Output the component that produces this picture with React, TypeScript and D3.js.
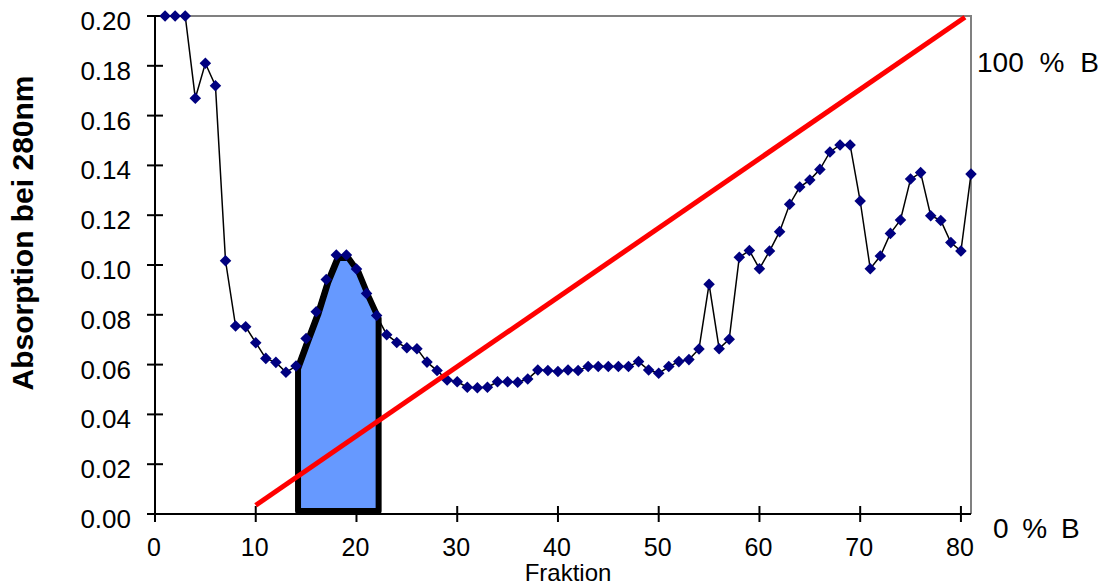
import React, { useEffect, useRef } from "react";
import * as d3 from "d3";

// Absorption at 280nm per fraction (1..81)
const fractions = d3.range(1, 82);
const absorption = [
  0.2, 0.2, 0.2, 0.167, 0.181, 0.172, 0.1017, 0.0755, 0.0752, 0.0688,
  0.0625, 0.0609, 0.0569, 0.0594, 0.0705, 0.0812, 0.0942, 0.104, 0.104, 0.0984,
  0.0886, 0.0797, 0.072, 0.0689, 0.0668, 0.0664, 0.061, 0.0576, 0.0538, 0.0531,
  0.0509, 0.0507, 0.0509, 0.0531, 0.0531, 0.0529, 0.0542, 0.0578, 0.0576, 0.0572,
  0.0578, 0.0576, 0.0592, 0.0592, 0.0592, 0.0592, 0.0592, 0.0612, 0.0578, 0.0565,
  0.0592, 0.0612, 0.062, 0.0663, 0.0923, 0.0664, 0.0702, 0.1031, 0.1058, 0.0985,
  0.1056, 0.1134, 0.1244, 0.1313, 0.1341, 0.1384, 0.1454, 0.1482, 0.1482, 0.1257,
  0.0985, 0.1036, 0.1127, 0.1181, 0.1345, 0.1371, 0.1198, 0.1179, 0.109, 0.1056,
  0.1365,
];

// pooled peak fractions
const peakStart = 14;
const peakEnd = 22;

// gradient (% B) start and end
const gradientX = [10, 80.4];
const gradientB = [0, 100];

const xTicks = [0, 10, 20, 30, 40, 50, 60, 70, 80];
const yTicks = [0, 0.02, 0.04, 0.06, 0.08, 0.1, 0.12, 0.14, 0.16, 0.18, 0.2];

const App = () => {
  const ref = useRef<SVGSVGElement>(null);

  useEffect(() => {
    const width = 1106;
    const height = 588;
    const left = 155;
    const right = 971;
    const top = 16;
    const bottom = 514;
    const font = "'Liberation Sans', Arial, sans-serif";

    const svg = d3.select(ref.current);
    svg.selectAll("*").remove();
    svg.attr("width", width).attr("height", height);

    const x = d3.scaleLinear().domain([0, 81]).range([left, right]);
    const y = d3.scaleLinear().domain([0, 0.2]).range([bottom, top]);
    const pct = d3.scaleLinear().domain([0, 100]).range([y(0.0035), y(0.1995)]);

    const data = fractions.map((f, i) => ({ f, v: absorption[i] }));

    // frame (top and right in gray)
    svg
      .append("path")
      .attr("d", `M${left - 8},${top}H${right}V${bottom}`)
      .attr("fill", "none")
      .attr("stroke", "#808080")
      .attr("stroke-width", 2);

    // axes
    const g = svg.append("g");
    g.append("line")
      .attr("x1", left).attr("x2", left)
      .attr("y1", top).attr("y2", bottom)
      .attr("stroke", "#000").attr("stroke-width", 2);
    g.append("line")
      .attr("x1", left - 8).attr("x2", right)
      .attr("y1", bottom).attr("y2", bottom)
      .attr("stroke", "#000").attr("stroke-width", 2);

    g.selectAll(".yt")
      .data(yTicks)
      .enter()
      .append("line")
      .attr("x1", left - 8).attr("x2", left + 8)
      .attr("y1", (d) => y(d)).attr("y2", (d) => y(d))
      .attr("stroke", "#000").attr("stroke-width", 2);

    g.selectAll(".xt")
      .data(xTicks)
      .enter()
      .append("line")
      .attr("x1", (d) => x(d)).attr("x2", (d) => x(d))
      .attr("y1", bottom - 8).attr("y2", bottom + 8)
      .attr("stroke", "#000").attr("stroke-width", 2);

    g.selectAll(".yl")
      .data(yTicks)
      .enter()
      .append("text")
      .attr("x", 131)
      .attr("y", (d) => y(d) + 14)
      .attr("text-anchor", "end")
      .attr("font-family", font)
      .attr("font-size", 26)
      .text((d) => d.toFixed(2));

    g.selectAll(".xl")
      .data(xTicks)
      .enter()
      .append("text")
      .attr("x", (d) => x(d) - 1)
      .attr("y", 556)
      .attr("text-anchor", "middle")
      .attr("font-family", font)
      .attr("font-size", 25)
      .text((d) => d);

    svg
      .append("text")
      .attr("x", 568)
      .attr("y", 581)
      .attr("text-anchor", "middle")
      .attr("font-family", font)
      .attr("font-size", 24)
      .text("Fraktion");

    svg
      .append("text")
      .attr("transform", `translate(33,233) rotate(-90)`)
      .attr("text-anchor", "middle")
      .attr("font-family", font)
      .attr("font-weight", "bold")
      .attr("font-size", 30)
      .text("Absorption bei 280nm");

    svg
      .append("text")
      .attr("x", 977)
      .attr("y", 72)
      .attr("font-family", font)
      .attr("font-size", 28)
      .attr("word-spacing", 8)
      .text("100 % B");
    svg
      .append("text")
      .attr("x", 993)
      .attr("y", 538)
      .attr("font-family", font)
      .attr("font-size", 28)
      .attr("word-spacing", 6)
      .text("0 % B");

    // series line
    const line = d3
      .line<{ f: number; v: number }>()
      .x((d) => x(d.f))
      .y((d) => y(d.v));
    svg
      .append("path")
      .datum(data)
      .attr("d", line)
      .attr("fill", "none")
      .attr("stroke", "#000")
      .attr("stroke-width", 1.5);

    // pooled peak area
    const peak = data.filter((d) => d.f >= peakStart && d.f <= peakEnd);
    const area = d3
      .area<{ f: number; v: number }>()
      .x((d) => x(d.f) + 2)
      .y0(y(0) - 3)
      .y1((d) => y(d.v) + 3);
    svg
      .append("path")
      .datum(peak)
      .attr("d", (d) => area(d) + "Z")
      .attr("fill", "#6699FF")
      .attr("stroke", "#000")
      .attr("stroke-width", 6)
      .attr("stroke-linejoin", "round");

    // markers
    svg
      .append("g")
      .selectAll("path")
      .data(data)
      .enter()
      .append("path")
      .attr("d", d3.symbol(d3.symbolDiamond2, 85) as any)
      .attr("transform", (d) => `translate(${x(d.f)},${y(d.v)})`)
      .attr("fill", "#000080");

    // gradient line
    svg
      .append("line")
      .attr("x1", x(gradientX[0]))
      .attr("y1", pct(gradientB[0]))
      .attr("x2", x(gradientX[1]))
      .attr("y2", pct(gradientB[1]))
      .attr("stroke", "#FF0000")
      .attr("stroke-width", 5);
  }, []);

  return (
    <div style={{ position: "absolute", left: 0, top: 0 }}>
      <svg ref={ref} style={{ display: "block", background: "#fff" }}></svg>
    </div>
  );
};

export default App;
